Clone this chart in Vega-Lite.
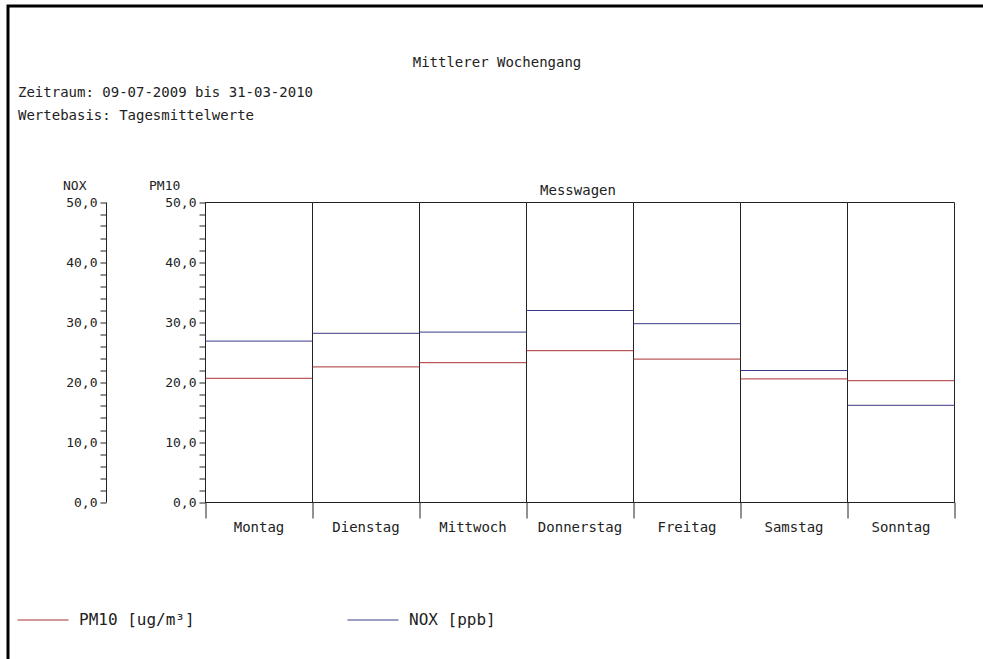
{
  "$schema": "https://vega.github.io/schema/vega-lite/v6.json",
  "width": 1020,
  "height": 700,
  "autosize": {"type": "none"},
  "padding": {"left": 8, "top": 6, "right": -45, "bottom": -47},
  "background": "white",
  "config": {
    "view": {"stroke": "#000", "strokeWidth": 3},
    "font": "DejaVu Sans Mono",
    "axis": {
      "translate": 0,
      "grid": false,
      "domainColor": "#222",
      "tickColor": "#222",
      "labelColor": "#222",
      "titleColor": "#222",
      "labelFont": "DejaVu Sans Mono",
      "titleFont": "DejaVu Sans Mono",
      "titleFontWeight": "normal"
    },
    "legend": {
      "labelFont": "DejaVu Sans Mono",
      "labelColor": "#222"
    }
  },
  "data": {
    "values": [
      {"day": "Montag", "PM10": 20.7, "NOX": 26.9},
      {"day": "Dienstag", "PM10": 22.6, "NOX": 28.2},
      {"day": "Mittwoch", "PM10": 23.3, "NOX": 28.4},
      {"day": "Donnerstag", "PM10": 25.3, "NOX": 32.0},
      {"day": "Freitag", "PM10": 23.9, "NOX": 29.8},
      {"day": "Samstag", "PM10": 20.6, "NOX": 22.0},
      {"day": "Sonntag", "PM10": 20.3, "NOX": 16.2}
    ]
  },
  "layer": [
    {
      "mark": {"type": "bar", "filled": false, "color": "#222", "strokeWidth": 1},
      "encoding": {
        "x": {
          "field": "day",
          "type": "nominal",
          "sort": null,
          "scale": {
            "domain": ["Montag", "Dienstag", "Mittwoch", "Donnerstag", "Freitag", "Samstag", "Sonntag"],
            "range": [197.5, 946.5],
            "paddingInner": 0,
            "paddingOuter": 0
          },
          "axis": {
            "orient": "bottom",
            "offset": -203.5,
            "tickBand": "extent",
            "tickSize": 16,
            "labelPadding": 2,
            "labelFontSize": 14,
            "labelAngle": 0,
            "title": "Messwagen",
            "titleFontSize": 14,
            "titleX": 570,
            "titleY": -307.5,
            "titleAlign": "center",
            "titleBaseline": "alphabetic"
          }
        },
        "y": {
          "datum": 50,
          "type": "quantitative",
          "scale": {"domain": [0, 50], "range": [496.5, 196.5], "nice": false, "zero": true},
          "axis": {
            "orient": "left",
            "offset": -197.5,
            "values": [0, 2, 4, 6, 8, 10, 12, 14, 16, 18, 20, 22, 24, 26, 28, 30, 32, 34, 36, 38, 40, 42, 44, 46, 48, 50],
            "tickSize": 6,
            "labelPadding": 3,
            "labelFontSize": 13,
            "labelExpr": "datum.value % 10 === 0 ? replace(format(datum.value, '.1f'), '.', ',') : ''",
            "title": "PM10",
            "titleFontSize": 13,
            "titleAngle": 0,
            "titleX": -56.5,
            "titleY": 184,
            "titleAlign": "left",
            "titleBaseline": "alphabetic"
          }
        },
        "y2": {"datum": 0}
      }
    },
    {
      "mark": {"type": "rule", "strokeWidth": 1},
      "encoding": {
        "x": {
          "field": "day",
          "type": "nominal",
          "sort": null,
          "bandPosition": 0,
          "axis": {
            "orient": "top",
            "domain": false,
            "ticks": false,
            "labels": false,
            "title": "Mittlerer Wochengang",
            "titleFontSize": 14,
            "titleX": 489,
            "titleY": 61,
            "titleAlign": "center",
            "titleBaseline": "alphabetic"
          }
        },
        "x2": {"field": "day", "bandPosition": 1},
        "y": {"field": "PM10", "type": "quantitative", "axis": null},
        "color": {
          "datum": "PM10 [ug/m³]",
          "type": "nominal",
          "scale": {"domain": ["PM10 [ug/m³]", "NOX [ppb]"], "range": ["#a83232", "#3a3a8a"]},
          "legend": {
            "orient": "none",
            "legendX": 9,
            "legendY": 588,
            "direction": "horizontal",
            "title": null,
            "symbolType": "stroke",
            "symbolSize": 2600,
            "symbolStrokeWidth": 1,
            "labelFontSize": 16,
            "labelOffset": 10,
            "columnPadding": 150,
            "padding": 0
          }
        }
      }
    },
    {
      "mark": {"type": "rule", "strokeWidth": 1},
      "encoding": {
        "x": {
          "field": "day",
          "type": "nominal",
          "sort": null,
          "bandPosition": 0,
          "axis": {
            "orient": "top",
            "domain": false,
            "ticks": false,
            "labels": false,
            "title": ["Zeitraum: 09-07-2009 bis 31-03-2010", "Wertebasis: Tagesmittelwerte"],
            "titleFontSize": 14,
            "titleLineHeight": 23,
            "titleX": 10,
            "titleY": 91,
            "titleAlign": "left",
            "titleBaseline": "alphabetic"
          }
        },
        "x2": {"field": "day", "bandPosition": 1},
        "y": {
          "field": "NOX",
          "type": "quantitative",
          "axis": {
            "orient": "left",
            "offset": -98.5,
            "values": [0, 2, 4, 6, 8, 10, 12, 14, 16, 18, 20, 22, 24, 26, 28, 30, 32, 34, 36, 38, 40, 42, 44, 46, 48, 50],
            "tickSize": 6,
            "labelPadding": 3,
            "labelFontSize": 13,
            "labelExpr": "datum.value % 10 === 0 ? replace(format(datum.value, '.1f'), '.', ',') : ''",
            "title": "NOX",
            "titleFontSize": 13,
            "titleAngle": 0,
            "titleX": -43.5,
            "titleY": 184,
            "titleAlign": "left",
            "titleBaseline": "alphabetic"
          }
        },
        "color": {"datum": "NOX [ppb]", "type": "nominal"}
      }
    }
  ],
  "resolve": {"axis": {"x": "independent", "y": "independent"}}
}
